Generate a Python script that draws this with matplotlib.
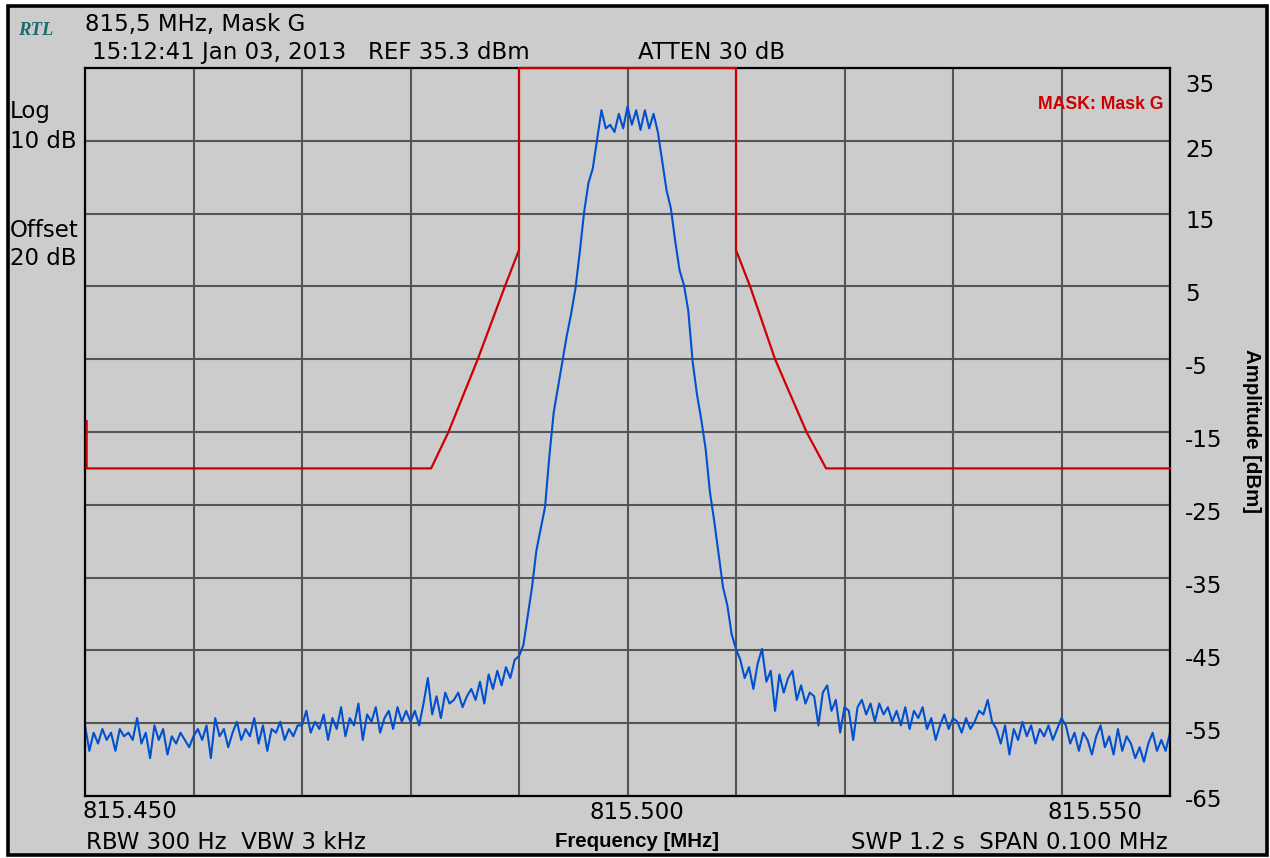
import matplotlib
matplotlib.use('Agg')
import matplotlib.pyplot as plt
import numpy as np
from matplotlib.patches import Rectangle

plt.rcParams['font.family'] = 'DejaVu Sans'

# sweep: 815.450 .. 815.550 MHz, trace in dBm
f_start, f_stop = 815.450, 815.550
trace = [
    -55.0, -58.5, -56.0, -57.5, -55.5, -57.0, -56.0, -58.5, -55.5, -56.5,
    -56.0, -57.0, -54.0, -57.5, -56.0, -59.5, -55.0, -57.0, -55.5, -59.0,
    -56.5, -57.5, -56.0, -57.0, -58.0,
    -56.5, -55.5, -57.0, -55.0, -59.5, -54.0, -56.5, -55.5, -58.0, -56.0,
    -54.5, -57.0, -55.5, -56.5, -54.0, -57.5, -55.0, -58.5, -55.5, -56.0,
    -54.5, -57.0, -55.5, -56.5, -55.0,
    -55.0, -53.0, -56.0, -54.5, -55.5, -53.5, -57.0, -54.0, -55.5, -52.5,
    -56.5, -54.0, -55.0, -52.0, -57.0, -53.5, -54.5, -52.5, -56.0, -54.0,
    -53.0, -55.5, -52.5, -54.5, -53.0,
    -54.5, -53.0, -55.0, -52.0, -48.5, -53.5, -51.0, -54.0, -50.5, -52.0,
    -51.5, -50.5, -52.5, -51.0, -50.0, -51.5, -49.0, -52.0, -48.0, -50.0,
    -47.5, -49.5, -47.0, -48.5, -46.0,
    -45.5, -44.0, -40.0, -36.0, -31.0, -28.0, -25.0, -18.0, -12.0, -8.5,
    -5.0, -1.5, 1.5, 5.0, 10.0, 15.5, 19.5, 21.5, 25.5, 29.5,
    27.0, 27.5, 26.5, 29.0, 27.0, 30.0, 27.5, 29.5, 26.8, 29.5,
    27.0, 29.0, 26.5, 22.5, 18.5, 16.0, 11.5, 7.5, 5.5, 2.0,
    -5.0, -9.5, -13.0, -17.0, -23.0, -27.0, -31.5, -36.0, -38.5, -42.5,
    -44.5,
    -46.0, -48.5, -47.0, -50.0, -46.5, -44.5, -49.0, -47.5, -53.0, -48.0,
    -50.5, -48.5, -47.5, -51.5, -49.5, -52.0, -50.5, -51.0, -55.0, -50.5,
    -49.5, -53.0, -51.5, -56.0, -52.5,
    -53.0, -57.0, -52.5, -51.5, -53.5, -52.0, -54.5, -52.0, -53.5, -52.5,
    -54.5, -53.0, -55.0, -52.5, -55.5, -53.0, -54.0, -52.5, -55.5, -54.0,
    -57.0, -55.0, -53.5, -55.5, -54.0,
    -54.5, -56.0, -54.0, -55.5, -54.5, -53.0, -53.5, -51.5, -54.5, -55.5,
    -57.5, -55.0, -59.0, -55.5, -57.0, -54.5, -56.5, -55.0, -57.5, -55.5,
    -56.5, -55.0, -57.0, -55.5, -54.0,
    -55.0, -57.5, -56.0, -58.5, -56.0, -57.0, -59.0, -56.5, -55.0, -58.0,
    -56.5, -59.0, -55.5, -58.5, -56.5, -57.5, -59.5, -58.0, -60.0, -57.5,
    -56.0, -58.5, -57.0, -58.5, -56.0,
]

# limit mask "Mask G": offset from centre in kHz, level in dBm
mask_off = [-49.85, -49.85, -18.1, -16.5, -13.8, -11.3, -10.0, -10.0,
            10.0, 10.0, 11.3, 13.6, 16.5, 18.3, 50]
mask_val = [-13.2, -19.7, -19.7, -14.7, -4.7, 5.3, 10.3, 35.3,
            35.3, 10.3, 5.3, -4.7, -14.7, -19.7, -19.7]

y_ref, y_bot = 35.3, -64.7
y_labels = ['35', '25', '15', '5', '-5', '-15', '-25', '-35', '-45', '-55', '-65']

W, H = 1270, 858
bg = '#cccccc'
fig = plt.figure(figsize=(W / 100, H / 100), dpi=100, facecolor='white')
fig.patches.append(Rectangle((7.5 / W, 1 - 855 / H), 1259 / W, 849.5 / H,
                             transform=fig.transFigure, facecolor=bg,
                             edgecolor='black', lw=2.6, zorder=-1))

ax = fig.add_axes([85 / W, 1 - 796 / H, 1085 / W, 728 / H])
ax.set_zorder(2)
ax.set_facecolor(bg)

freq = np.linspace(f_start, f_stop, len(trace))
ax.plot(freq, trace, color='#0050d0', lw=1.5, zorder=3)
ax.plot(815.5 + np.array(mask_off) / 1000, mask_val, color='#cc0000',
        lw=1.6, zorder=6, clip_on=False)

ax.set_xlim(f_start, f_stop)
ax.set_ylim(y_bot, y_ref)
ax.set_xticks(np.linspace(f_start, f_stop, 11))
ax.set_yticks(np.linspace(y_bot, y_ref, 11))
ax.tick_params(length=0, labelbottom=False, labelleft=False)
ax.grid(True, color='#555555', lw=1.5, zorder=1)
ax.set_axisbelow(True)
for s in ax.spines.values():
    s.set_color('black')
    s.set_linewidth(1.6)
    s.set_zorder(5)


def px(x, y):
    return x / W, 1 - y / H


fs = 16.5
# right amplitude labels (baselines in pixels)
label_base = [92, 157, 228, 301, 374, 447, 520, 593, 666, 739, 807]
for t, yb in zip(y_labels, label_base):
    fig.text(*px(1185, yb), t, fontsize=fs, va='baseline', ha='left')

fig.text(*px(1252, 431), 'Amplitude [dBm]', rotation=-90, ha='center',
         va='center', fontsize=14.7, family='Liberation Sans', weight='bold')

# frequency labels
fig.text(*px(82, 818), '815.450', fontsize=fs, va='baseline', ha='left')
fig.text(*px(637, 819), '815.500', fontsize=fs, va='baseline', ha='center')
fig.text(*px(1142, 819), '815.550', fontsize=fs, va='baseline', ha='right')
fig.text(*px(637, 847), 'Frequency [MHz]', fontsize=14.7, va='baseline',
         ha='center', family='Liberation Sans', weight='bold')
fig.text(*px(86, 849), 'RBW 300 Hz  VBW 3 kHz', fontsize=fs, va='baseline')
fig.text(*px(1168, 849), 'SWP 1.2 s  SPAN 0.100 MHz', fontsize=fs,
         va='baseline', ha='right')

# header
fig.text(*px(18, 35), 'RTL', fontsize=13.5, family='Liberation Serif',
         style='italic', weight='bold', color='#1e6b6b', va='baseline')
fig.text(*px(85, 31), '815,5 MHz, Mask G', fontsize=fs, va='baseline')
fig.text(*px(92, 59), '15:12:41 Jan 03, 2013   REF 35.3 dBm', fontsize=fs,
         va='baseline')
fig.text(*px(638, 59), 'ATTEN 30 dB', fontsize=fs, va='baseline')

# left info
for t, yb in [('Log', 118), ('10 dB', 148), ('Offset', 237), ('20 dB', 265)]:
    fig.text(*px(10, yb), t, fontsize=fs, va='baseline')

fig.text(*px(1164, 109), 'MASK: Mask G', fontsize=12.7, color='#cc0000',
         family='Liberation Sans', weight='bold', va='baseline', ha='right')

fig.savefig('out.png', dpi=100, facecolor='white')
